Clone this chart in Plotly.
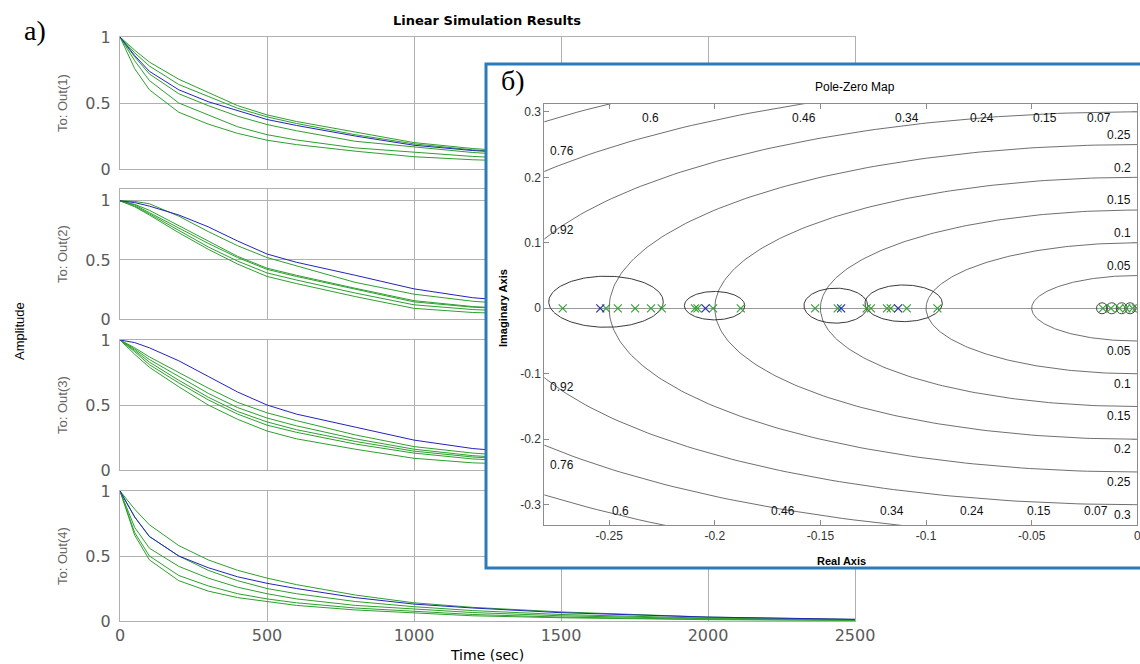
import numpy as np
import plotly.graph_objects as go

W, H = 1140, 664

# ---------------- Linear simulation data ----------------
time_s = [0, 50, 100, 200, 300, 400, 500, 600, 800, 1000, 1200, 1500, 2000, 2500]

out1_blue = [1, 0.86, 0.74, 0.60, 0.51, 0.44, 0.375, 0.33, 0.25, 0.18, 0.14, 0.10, 0.055, 0.03]
out1_green = [
    [1, 0.90, 0.81, 0.68, 0.58, 0.48, 0.41, 0.36, 0.28, 0.20, 0.155, 0.11, 0.06, 0.03],
    [1, 0.88, 0.78, 0.64, 0.55, 0.46, 0.395, 0.345, 0.26, 0.19, 0.145, 0.10, 0.055, 0.03],
    [1, 0.85, 0.72, 0.57, 0.48, 0.40, 0.337, 0.29, 0.21, 0.165, 0.125, 0.085, 0.045, 0.022],
    [1, 0.82, 0.67, 0.50, 0.41, 0.32, 0.26, 0.22, 0.16, 0.125, 0.095, 0.065, 0.035, 0.018],
    [1, 0.76, 0.60, 0.43, 0.34, 0.27, 0.218, 0.185, 0.135, 0.093, 0.07, 0.05, 0.025, 0.012],
]

out2_blue = [1, 0.985, 0.955, 0.88, 0.78, 0.66, 0.55, 0.48, 0.37, 0.255, 0.18, 0.12, 0.06, 0.03]
out2_green = [
    [1, 0.995, 0.975, 0.87, 0.74, 0.62, 0.52, 0.45, 0.31, 0.21, 0.15, 0.10, 0.05, 0.025],
    [1, 0.97, 0.92, 0.79, 0.66, 0.53, 0.43, 0.37, 0.26, 0.155, 0.105, 0.07, 0.035, 0.018],
    [1, 0.965, 0.90, 0.77, 0.64, 0.52, 0.42, 0.36, 0.25, 0.145, 0.10, 0.065, 0.032, 0.016],
    [1, 0.955, 0.89, 0.75, 0.61, 0.49, 0.39, 0.33, 0.22, 0.12, 0.08, 0.05, 0.025, 0.012],
    [1, 0.95, 0.88, 0.73, 0.59, 0.465, 0.36, 0.30, 0.19, 0.09, 0.055, 0.035, 0.016, 0.008],
]

out3_blue = [1, 0.98, 0.94, 0.84, 0.72, 0.60, 0.50, 0.43, 0.33, 0.23, 0.165, 0.11, 0.06, 0.03]
out3_green = [
    [1, 0.94, 0.87, 0.75, 0.63, 0.52, 0.44, 0.38, 0.27, 0.18, 0.13, 0.085, 0.04, 0.02],
    [1, 0.93, 0.85, 0.72, 0.59, 0.48, 0.40, 0.34, 0.24, 0.16, 0.11, 0.07, 0.035, 0.017],
    [1, 0.92, 0.83, 0.69, 0.56, 0.45, 0.37, 0.31, 0.22, 0.145, 0.10, 0.06, 0.03, 0.015],
    [1, 0.91, 0.81, 0.67, 0.54, 0.43, 0.345, 0.29, 0.20, 0.13, 0.085, 0.05, 0.025, 0.012],
    [1, 0.89, 0.79, 0.64, 0.50, 0.39, 0.30, 0.24, 0.16, 0.09, 0.055, 0.035, 0.015, 0.008],
]

out4_blue = [1, 0.80, 0.65, 0.50, 0.41, 0.34, 0.29, 0.25, 0.18, 0.13, 0.10, 0.064, 0.03, 0.013]
out4_green = [
    [1, 0.86, 0.74, 0.58, 0.47, 0.39, 0.33, 0.28, 0.20, 0.14, 0.105, 0.07, 0.03, 0.012],
    [1, 0.80, 0.65, 0.50, 0.39, 0.31, 0.25, 0.21, 0.15, 0.11, 0.08, 0.05, 0.022, 0.01],
    [1, 0.72, 0.56, 0.42, 0.33, 0.26, 0.21, 0.17, 0.12, 0.09, 0.065, 0.04, 0.018, 0.008],
    [1, 0.68, 0.50, 0.35, 0.27, 0.21, 0.17, 0.14, 0.10, 0.075, 0.05, 0.03, 0.013, 0.006],
    [1, 0.66, 0.47, 0.31, 0.23, 0.18, 0.15, 0.12, 0.085, 0.06, 0.04, 0.025, 0.01, 0.005],
]

output_labels = ["To: Out(1)", "To: Out(2)", "To: Out(3)", "To: Out(4)"]
time_ticks = [0, 500, 1000, 1500, 2000, 2500]
amp_ticks = [0, 0.5, 1]

# ---------------- Pole-zero map data ----------------
poles_green = [-0.272, -0.2515, -0.2459, -0.2377, -0.2302, -0.2251,
               -0.2094, -0.2082, -0.2008, -0.1877,
               -0.1525, -0.1418, -0.1281, -0.1261, -0.1185, -0.1167, -0.1091, -0.0946,
               -0.0163, -0.0125, -0.0085, -0.0052, -0.0022, -0.0006]
poles_blue = [-0.2542, -0.2044, -0.1402, -0.1132]
zeros_pz = [-0.0167, -0.0121, -0.0074, -0.0034]

cluster_cx = [-0.2515, -0.2001, -0.1427, -0.1106]
cluster_cy = [0.010, 0.004, 0.004, 0.0076]
cluster_rx = [0.0271, 0.0143, 0.0151, 0.0183]
cluster_ry = [0.039, 0.0217, 0.0267, 0.028]

wn_values = [0.05, 0.10, 0.15, 0.20, 0.25, 0.30, 0.35, 0.40]
wn_labels = ["0.05", "0.1", "0.15", "0.2", "0.25", "0.3"]
zeta_top = [0.6, 0.46, 0.34, 0.24, 0.15, 0.07]
zeta_left = [0.92, 0.76]
re_ticks = [-0.25, -0.2, -0.15, -0.1, -0.05, 0]
re_ticktext = ["-0.25", "-0.2", "-0.15", "-0.1", "-0.05", "0"]
im_ticks = [-0.3, -0.2, -0.1, 0, 0.1, 0.2, 0.3]
im_ticktext = ["-0.3", "-0.2", "-0.1", "0", "0.1", "0.2", "0.3"]

GREEN = "rgb(45,160,45)"
BLUE = "rgb(35,35,190)"
GRID = "#b0b0b0"

def px_x(x):
    return x / W

def px_y(y):
    return 1 - y / H

fig = go.Figure()

# ---------------- left: 4 stacked subplots ----------------
sub_top = [37, 189, 340, 491]
sub_bot = [169, 319, 470, 621]
y_max = [1.0, 1.1, 1.0, 1.0]
all_blue = [out1_blue, out2_blue, out3_blue, out4_blue]
all_green = [out1_green, out2_green, out3_green, out4_green]

tickfont_left = dict(family="DejaVu Sans, Arial", size=16, color="#5a5a5a")
for i in range(4):
    k = i + 1
    xa = "x" if k == 1 else f"x{k}"
    ya = "y" if k == 1 else f"y{k}"
    for g in all_green[i]:
        fig.add_trace(go.Scatter(x=time_s, y=g, mode="lines", xaxis=xa, yaxis=ya,
                                 line=dict(color=GREEN, width=1), showlegend=False,
                                 hoverinfo="skip"))
    fig.add_trace(go.Scatter(x=time_s, y=all_blue[i], mode="lines", xaxis=xa, yaxis=ya,
                             line=dict(color=BLUE, width=1), showlegend=False,
                             hoverinfo="skip"))
    fig.update_layout(**{
        f"xaxis{'' if k == 1 else k}": dict(
            domain=[px_x(120), px_x(855)], range=[0, 2500], anchor=ya,
            tickvals=time_ticks, showticklabels=(k == 4), tickfont=tickfont_left,
            showgrid=True, gridcolor=GRID, gridwidth=1, zeroline=False, automargin=False,
            showline=True, linecolor=GRID, mirror=True, ticks=""),
        f"yaxis{'' if k == 1 else k}": dict(
            domain=[px_y(sub_bot[i]), px_y(sub_top[i])], range=[0, y_max[i]], anchor=xa,
            tickvals=amp_ticks, ticktext=["0", "0.5", "1"], tickfont=tickfont_left,
            ticklabelstandoff=5,
            showgrid=True, gridcolor=GRID, gridwidth=1, zeroline=False, automargin=False,
            showline=True, linecolor=GRID, mirror=True, ticks=""),
    })

# ---------------- white cover for the inset ----------------
box_l, box_t, box_b = 486, 64, 568
fig.add_trace(go.Scatter(x=[-0.1, 1.1, 1.1, -0.1, -0.1], y=[-0.1, -0.1, 1.1, 1.1, -0.1],
                         mode="lines", fill="toself", fillcolor="white",
                         line=dict(width=0, color="white"), xaxis="x5", yaxis="y5",
                         showlegend=False, hoverinfo="skip"))
fig.update_layout(
    xaxis5=dict(domain=[px_x(box_l), 1.0], range=[0, 1], visible=False, anchor="y5",
                automargin=False),
    yaxis5=dict(domain=[px_y(box_b), px_y(box_t)], range=[0, 1], visible=False, anchor="x5",
                automargin=False),
)

# ---------------- inset: pole-zero map ----------------
x_lo, x_hi = -0.2807, 0.0
y_lo, y_hi = -0.331, 0.312

theta = np.linspace(-np.pi / 2, np.pi / 2, 200)
for wn in wn_values:
    fig.add_trace(go.Scatter(x=-wn * np.cos(theta), y=wn * np.sin(theta), mode="lines",
                             xaxis="x6", yaxis="y6", line=dict(color="#4a4a4a", width=0.8),
                             showlegend=False, hoverinfo="skip"))

phi = np.linspace(0, 2 * np.pi, 160)
for cx, cy, rx, ry in zip(cluster_cx, cluster_cy, cluster_rx, cluster_ry):
    fig.add_trace(go.Scatter(x=cx + rx * np.cos(phi), y=cy + ry * np.sin(phi), mode="lines",
                             xaxis="x6", yaxis="y6", line=dict(color="#222222", width=0.9),
                             showlegend=False, hoverinfo="skip"))

fig.add_trace(go.Scatter(x=zeros_pz, y=[0] * len(zeros_pz), mode="markers",
                         xaxis="x6", yaxis="y6",
                         marker=dict(symbol="circle-open", size=11,
                                     line=dict(color="#333333", width=0.9), color="#333333"),
                         showlegend=False, hoverinfo="skip"))
fig.add_trace(go.Scatter(x=poles_green, y=[0] * len(poles_green), mode="markers",
                         xaxis="x6", yaxis="y6",
                         marker=dict(symbol="x-thin", size=8, line=dict(color=GREEN, width=1.1)),
                         showlegend=False, hoverinfo="skip"))
fig.add_trace(go.Scatter(x=poles_blue, y=[0] * len(poles_blue), mode="markers",
                         xaxis="x6", yaxis="y6",
                         marker=dict(symbol="x-thin", size=8, line=dict(color=BLUE, width=1.1)),
                         showlegend=False, hoverinfo="skip"))

inset_tickfont = dict(family="Arial, Liberation Sans", size=12, color="#333333")
fig.update_layout(
    xaxis6=dict(domain=[px_x(544.3), px_x(1137.3)], range=[x_lo, x_hi], anchor="y6",
                tickvals=re_ticks, ticktext=re_ticktext, tickfont=inset_tickfont,
                ticklabeloverflow="allow",
                showgrid=False, zeroline=False, showline=True, linecolor="#8c8c8c",
                mirror="ticks", ticks="inside", ticklen=5, tickcolor="#8c8c8c",
                automargin=False),
    yaxis6=dict(domain=[px_y(525), px_y(104)], range=[y_lo, y_hi], anchor="x6",
                tickvals=im_ticks, ticktext=im_ticktext, tickfont=inset_tickfont,
                showgrid=False, zeroline=True, zerolinecolor="#9a9a9a", zerolinewidth=1,
                showline=True, linecolor="#8c8c8c",
                mirror="ticks", ticks="inside", ticklen=5, tickcolor="#8c8c8c",
                automargin=False),
)

annotations = []
lab_font = dict(family="Arial, Liberation Sans", size=12, color="#111111")
# damping-ratio labels along top and bottom edges
for z in zeta_top:
    slope = np.tan(np.arccos(z))
    annotations.append(dict(x=-y_hi / slope, y=y_hi, xref="x6", yref="y6", text=f"{z:g}",
                            showarrow=False, font=lab_font, xanchor="center",
                            yanchor="middle", yshift=-14, xshift=8))
    annotations.append(dict(x=y_lo / slope, y=y_lo, xref="x6", yref="y6", text=f"{z:g}",
                            showarrow=False, font=lab_font, xanchor="center",
                            yanchor="middle", yshift=14, xshift=8))
# damping-ratio labels along left edge
for z in zeta_left:
    slope = np.tan(np.arccos(z))
    for sgn in (1, -1):
        annotations.append(dict(x=x_lo, y=sgn * (-x_lo) * slope, xref="x6", yref="y6",
                                text=f"{z:g}", showarrow=False, font=lab_font,
                                xanchor="left", yanchor="middle", xshift=4))
# natural-frequency labels on right edge
for wn, lab in zip(wn_values, wn_labels):
    for sgn in (1, -1):
        if sgn == 1 and wn >= 0.3:
            continue
        annotations.append(dict(x=0, y=sgn * (wn + 0.015), xref="x6", yref="y6",
                                text=lab, showarrow=False, font=lab_font,
                                xanchor="right", yanchor="middle", xshift=-4))

# titles and labels
annotations += [
    dict(x=px_x(487), y=px_y(20), xref="paper", yref="paper", text="<b>Linear Simulation Results</b>",
         showarrow=False, font=dict(family="DejaVu Sans, Arial", size=13, color="black"),
         xanchor="center", yanchor="middle"),
    dict(x=px_x(487), y=px_y(655), xref="paper", yref="paper", text="Time (sec)",
         showarrow=False, font=dict(family="DejaVu Sans, Arial", size=14, color="black"),
         xanchor="center", yanchor="middle"),
    dict(x=px_x(19), y=px_y(331), xref="paper", yref="paper", text="Amplitude",
         showarrow=False, font=dict(family="Arial, Liberation Sans", size=13, color="black"),
         textangle=-90, xanchor="center", yanchor="middle"),
    dict(x=px_x(35), y=px_y(30), xref="paper", yref="paper", text="a)",
         showarrow=False, font=dict(family="Liberation Serif, DejaVu Serif", size=28, color="black"),
         xanchor="center", yanchor="middle"),
    dict(x=px_x(513), y=px_y(81), xref="paper", yref="paper", text="б)",
         showarrow=False, font=dict(family="Liberation Serif, DejaVu Serif", size=28, color="black"),
         xanchor="center", yanchor="middle"),
    dict(x=px_x(855), y=px_y(87), xref="paper", yref="paper", text="Pole-Zero Map",
         showarrow=False, font=dict(family="Arial, Liberation Sans", size=12, color="black"),
         xanchor="center", yanchor="middle"),
    dict(x=px_x(841), y=px_y(561), xref="paper", yref="paper", text="<b>Real Axis</b>",
         showarrow=False, font=dict(family="Arial, Liberation Sans", size=11, color="black"),
         xanchor="center", yanchor="middle"),
    dict(x=px_x(503), y=px_y(308), xref="paper", yref="paper", text="<b>Imaginary Axis</b>",
         showarrow=False, font=dict(family="Arial, Liberation Sans", size=11, color="black"),
         textangle=-90, xanchor="center", yanchor="middle"),
]
for i, lab in enumerate(output_labels):
    annotations.append(dict(x=px_x(62), y=px_y((sub_top[i] + sub_bot[i]) / 2),
                            xref="paper", yref="paper", text=lab, showarrow=False,
                            font=dict(family="Arial, Liberation Sans", size=13, color="#666666"),
                            textangle=-90, xanchor="center", yanchor="middle"))

fig.update_layout(
    width=W, height=H, margin=dict(l=0, r=0, t=0, b=0, autoexpand=False),
    paper_bgcolor="white", plot_bgcolor="white",
    annotations=annotations,
    shapes=[dict(type="rect", xref="paper", yref="paper",
                 x0=px_x(box_l), x1=1.02, y0=px_y(box_b), y1=px_y(box_t),
                 line=dict(color="#2b7bba", width=3), fillcolor="rgba(0,0,0,0)",
                 layer="above")],
    showlegend=False,
)

fig.write_html("out.html", config={"displayModeBar": False},
               post_script="document.body.style.margin='0px';document.body.style.overflow='hidden';")
